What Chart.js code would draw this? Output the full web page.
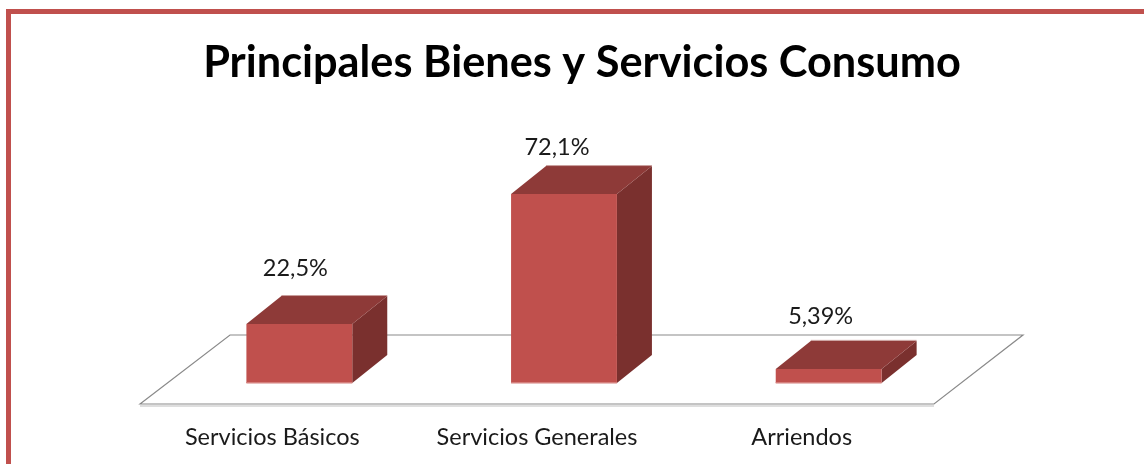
<!DOCTYPE html>
<html><head><meta charset="utf-8">
<style>
html,body{margin:0;padding:0;background:#fff;overflow:hidden}
#wrap{position:absolute;left:0;top:0;width:1144px;height:464px}
#frame{position:absolute;left:6px;top:9px;width:1200px;height:500px;border-left:5px solid #C0504D;border-top:5px solid #C0504D}
canvas{position:absolute;left:0;top:0}
</style>
<script src="https://cdn.jsdelivr.net/npm/chart.js@4"></script>
</head><body>
<div id="wrap"><div id="frame"></div><canvas id="c" width="1144" height="464"></canvas></div>
<script>
const categories = ["Servicios Básicos", "Servicios Generales", "Arriendos"];
const values = [22.5, 72.1, 5.39];
const valueLabels = ["22,5%", "72,1%", "5,39%"];
const chartTitle = "Principales Bienes y Servicios Consumo";

const FONT = "Lato, Carlito, sans-serif";
const floorDepth = {x: 90, y: 69};
const barDepth = {x: 35, y: 28};
const barShift = {x: 27, y: 21};
const labelNudge = [{x: -4, y: -56}, {x: -7, y: -47}, {x: -8, y: -52}];

const bar3d = {
  id: "bar3d",
  beforeDatasetsDraw(chart) {
    const {ctx, chartArea: a} = chart;
    ctx.save();
    ctx.beginPath();
    ctx.moveTo(a.left, a.bottom);
    ctx.lineTo(a.left + floorDepth.x, a.bottom - floorDepth.y);
    ctx.lineTo(a.right + floorDepth.x - 1, a.bottom - floorDepth.y);
    ctx.lineTo(a.right, a.bottom);
    ctx.closePath();
    ctx.strokeStyle = "#8a8a8a";
    ctx.lineWidth = 1.2;
    ctx.stroke();
    ctx.strokeStyle = "#dedede";
    ctx.lineWidth = 2;
    ctx.beginPath();
    ctx.moveTo(a.left, a.bottom + 2);
    ctx.lineTo(a.right, a.bottom + 2);
    ctx.stroke();
    ctx.restore();
  },
  beforeDatasetDraw(chart) {
    const ctx = chart.ctx;
    ctx.save();
    ctx.translate(barShift.x, -barShift.y);
    chart.getDatasetMeta(0).data.forEach(el => {
      const l = el.x - el.width / 2, r = el.x + el.width / 2, t = el.y, b = el.base;
      const dx = barDepth.x, dy = barDepth.y;
      ctx.fillStyle = "#7A302E";
      ctx.beginPath();
      ctx.moveTo(r, t); ctx.lineTo(r + dx, t - dy); ctx.lineTo(r + dx, b - dy); ctx.lineTo(r, b);
      ctx.closePath(); ctx.fill();
      ctx.fillStyle = "#8E3A38";
      ctx.beginPath();
      ctx.moveTo(l, t); ctx.lineTo(l + dx, t - dy); ctx.lineTo(r + dx, t - dy); ctx.lineTo(r, t);
      ctx.closePath(); ctx.fill();
      ctx.fillStyle = "#c79a98";
      ctx.fillRect(l + dx, t - dy - 1, el.width, 1);
    });
  },
  afterDatasetDraw(chart) {
    const ctx = chart.ctx;
    chart.getDatasetMeta(0).data.forEach(el => {
      ctx.fillStyle = "#D47F7C";
      ctx.fillRect(el.x - el.width / 2, el.base - 1, el.width, 1.5);
    });
    ctx.restore();
  },
  afterDatasetsDraw(chart) {
    const ctx = chart.ctx;
    ctx.save();
    ctx.font = "23.5px " + FONT;
    ctx.fillStyle = "#1a1a1a";
    ctx.textAlign = "center";
    ctx.textBaseline = "middle";
    chart.getDatasetMeta(0).data.forEach((el, i) => {
      ctx.fillText(valueLabels[i], el.x + barShift.x + labelNudge[i].x, el.y - barShift.y + labelNudge[i].y);
    });
    ctx.restore();
  }
};

new Chart(document.getElementById("c"), {
  type: "bar",
  data: {
    labels: categories,
    datasets: [{
      data: values,
      backgroundColor: "#C0504D",
      borderWidth: 0,
      categoryPercentage: 1,
      barPercentage: 0.4
    }]
  },
  options: {
    responsive: false,
    animation: false,
    layout: {padding: {left: 20, right: 0, top: 0, bottom: 0}},
    plugins: {
      legend: {display: false},
      tooltip: {enabled: false},
      title: {
        display: true,
        text: chartTitle,
        color: "#000",
        font: {family: FONT, size: 43.3, weight: "bold", lineHeight: 1.2},
        padding: {top: 37, bottom: 53}
      }
    },
    scales: {
      x: {
        grid: {display: false},
        border: {display: false},
        ticks: {color: "#1a1a1a", font: {family: FONT, size: 23.5}, padding: 11, maxRotation: 0},
        afterFit(s) { s.height = 60; }
      },
      y: {
        min: 0, max: 100,
        grid: {display: false},
        border: {display: false},
        ticks: {display: false},
        afterFit(s) { s.width = 120; }
      },
      yRight: {
        position: "right",
        min: 0, max: 100,
        grid: {display: false},
        border: {display: false},
        ticks: {display: false},
        afterFit(s) { s.width = 210; }
      }
    }
  },
  plugins: [bar3d]
});
</script>
</body></html>
